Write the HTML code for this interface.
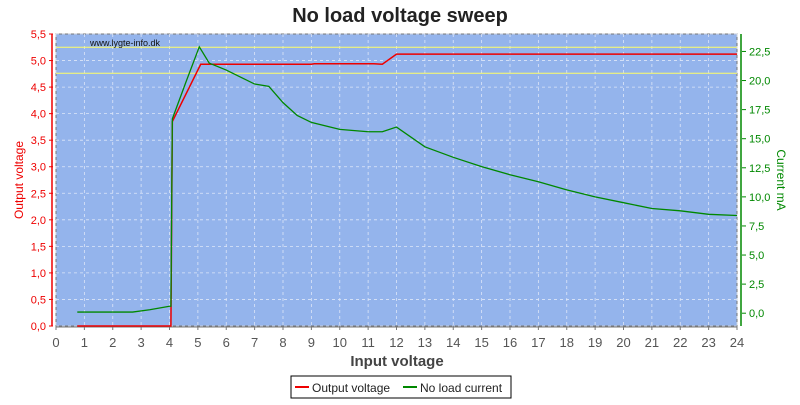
<!DOCTYPE html>
<html><head><meta charset="utf-8"><style>
body{margin:0;background:#fff;width:800px;height:400px;overflow:hidden;font-family:"Liberation Sans",sans-serif}
</style></head><body>
<svg id="chart" width="800" height="400" xmlns="http://www.w3.org/2000/svg" font-family="Liberation Sans, sans-serif">
<text x="400" y="22" text-anchor="middle" font-size="20" font-weight="bold" fill="#222">No load voltage sweep</text>
<rect x="56" y="34" width="681" height="292" fill="#94b4ec" stroke="#777"/>
<g id="grid"></g>
<g id="axes"></g>
<text x="90" y="46" font-size="9" fill="#111">www.lygte-info.dk</text>
<g id="series"></g>
<text x="397" y="366" text-anchor="middle" font-size="15" font-weight="bold" fill="#444">Input voltage</text>
<text transform="translate(23,180) rotate(-90)" text-anchor="middle" font-size="12" fill="#e00">Output voltage</text>
<text transform="translate(777,180) rotate(90)" text-anchor="middle" font-size="12" fill="#080">Current mA</text>
<g>
<rect x="291" y="376" width="220" height="22" fill="#fff" stroke="#000"/>
<line x1="295" y1="387" x2="309" y2="387" stroke="#e00" stroke-width="2"/>
<text x="312" y="392" font-size="12" fill="#222">Output voltage</text>
<line x1="403" y1="387" x2="417" y2="387" stroke="#080" stroke-width="2"/>
<text x="420" y="392" font-size="12" fill="#222">No load current</text>
</g>
</svg>
<script>
const xTicks=[0,1,2,3,4,5,6,7,8,9,10,11,12,13,14,15,16,17,18,19,20,21,22,23,24];
const vTicks=["0,0","0,5","1,0","1,5","2,0","2,5","3,0","3,5","4,0","4,5","5,0","5,5"];
const iTicks=["0,0","2,5","5,0","7,5","10,0","12,5","15,0","17,5","20,0","22,5"];
const voltX=[0.75,4.05,4.1,5.1,9.0,9.1,11.2,11.5,12.0,24.0];
const voltY=[0,0,3.85,4.93,4.93,4.94,4.94,4.93,5.12,5.12];
const curX=[0.75,2.7,3.3,4.0,4.05,4.1,4.6,5.05,5.4,6.0,6.5,7.0,7.5,8.0,8.5,9.0,10,11,11.5,12,13,14,15,16,17,18,19,20,21,22,23,24];
const curY=[0.1,0.1,0.3,0.6,0.6,16.7,20.0,22.9,21.5,20.9,20.3,19.7,19.5,18.1,17.0,16.4,15.8,15.6,15.6,16.0,14.3,13.4,12.6,11.9,11.3,10.6,10.0,9.5,9.0,8.8,8.5,8.4];
const L=56,R=737,T=34,B=326;
const xs=v=>L+(R-L)*v/24;
const yv=v=>B-(B-T)*v/5.5;
const yi=v=>B-(B-T)*(v+1.1)/25.1;
const NS="http://www.w3.org/2000/svg";
function mk(tag,attrs,parent){const e=document.createElementNS(NS,tag);for(const k in attrs)e.setAttribute(k,attrs[k]);document.getElementById(parent).appendChild(e);return e;}
xTicks.forEach(t=>{
 const g=mk('line',{x1:xs(t),x2:xs(t),y1:T,y2:B,stroke:'#dde6f8','stroke-dasharray':'3,3','stroke-width':0.8},'grid');
 
 
 const tk=mk('line',{x1:xs(t),x2:xs(t),y1:B,y2:B+4,stroke:'#777'},'axes');
 
 
 const tx=mk('text',{x:xs(t),y:B+21,'text-anchor':'middle','font-size':13,fill:'#555'},'axes');
 
 
 tx.textContent=t;
});
mk('line',{x1:L,x2:R,y1:B+1,y2:B+1,stroke:'#777'},'axes');
vTicks.forEach((s,i)=>{
 const v=i*0.5;
 const g=mk('line',{x1:L,x2:R,y1:yv(v),y2:yv(v),stroke:'#dde6f8','stroke-dasharray':'3,3','stroke-width':0.8},'grid');
 
 
 mk('line',{x1:49,x2:53,y1:yv(v),y2:yv(v),stroke:'#e00'},'axes');
 const tx=mk('text',{x:46,y:yv(v)+4,'text-anchor':'end','font-size':11,fill:'#e00'},'axes');
 
 
 tx.textContent=s;
});
mk('line',{x1:52,x2:52,y1:T,y2:B,stroke:'#e00','stroke-width':1.5},'axes');
iTicks.forEach((s,i)=>{
 const v=i*2.5;
 mk('line',{x1:742,x2:746,y1:yi(v),y2:yi(v),stroke:'#080'},'axes');
 const tx=mk('text',{x:749,y:yi(v)+4,'font-size':11,fill:'#080'},'axes');
 
 
 tx.textContent=s;
});
mk('line',{x1:741,x2:741,y1:T,y2:B,stroke:'#080','stroke-width':1.5},'axes');
[5.25,4.76].forEach(v=>{const l=mk('line',{x1:L,x2:R,y1:yv(v),y2:yv(v),stroke:'#ffff66','stroke-width':1},'grid');
 
 });
const pv=mk('polyline',{points:voltX.map((x,i)=>xs(x)+','+yv(voltY[i])).join(' '),fill:'none',stroke:'#e00','stroke-width':1.5},'series');


const pc=mk('polyline',{points:curX.map((x,i)=>xs(x)+','+yi(curY[i])).join(' '),fill:'none',stroke:'#080','stroke-width':1.3},'series');


</script>
</body></html>
